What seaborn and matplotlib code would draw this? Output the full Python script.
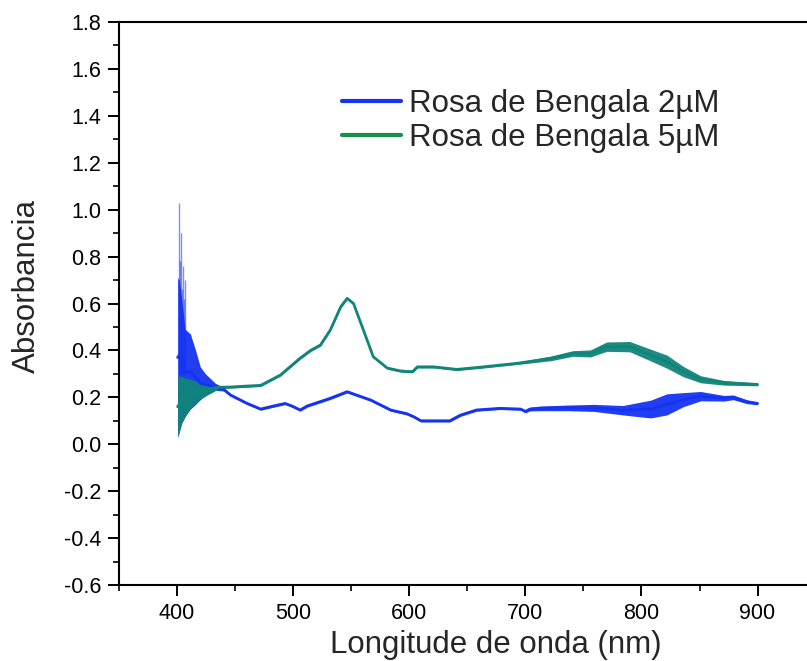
import numpy as np
import pandas as pd
import matplotlib
matplotlib.use("Agg")
import matplotlib.pyplot as plt
import seaborn as sns
from matplotlib.lines import Line2D
from matplotlib.ticker import MultipleLocator

# ---------------- data ----------------
labels = ["Rosa de Bengala 2µM", "Rosa de Bengala 5µM"]

wl_2uM = [400.5, 402, 404, 407, 411.5, 416, 420, 424.5, 433, 440, 446, 460, 472, 483,
          493, 499, 506, 512, 532, 546.5, 567, 584, 598, 604, 610, 635, 644, 658, 678,
          696, 700, 704, 713, 736, 759, 784, 808, 822, 836, 851, 871, 879, 891, 900]
abs_2uM = [0.37, 0.38, 0.355, 0.305, 0.31, 0.285, 0.26, 0.255, 0.245, 0.235, 0.21, 0.175,
           0.15, 0.163, 0.174, 0.163, 0.146, 0.163, 0.196, 0.224, 0.188, 0.146, 0.13,
           0.117, 0.10, 0.10, 0.124, 0.146, 0.153, 0.15, 0.14, 0.15, 0.153, 0.155, 0.155,
           0.145, 0.15, 0.17, 0.19, 0.205, 0.196, 0.2, 0.181, 0.174]
noise_2uM = [0.34, 0.32, 0.265, 0.185, 0.16, 0.115, 0.07, 0.045, 0.015, 0.008] + \
            [0.005] * 20 + \
            [0.006, 0.008, 0.01, 0.012, 0.015, 0.02, 0.038, 0.045, 0.03, 0.02, 0.012,
             0.01, 0.008, 0.006]
spike_wl_2uM = [401.5, 402.3, 403.5, 404.2, 404.9, 405.8, 406.5]
spike_abs_2uM = [1.03, 0.78, 0.90, 0.66, 0.76, 0.62, 0.70]

wl_5uM = [400.5, 402, 404, 407, 410, 414, 419, 424, 430, 436, 446, 460, 472, 489, 506,
          515, 523.5, 532, 541, 546.5, 552, 560.5, 569, 581, 592, 598, 603, 607, 621,
          641, 664, 693, 722, 741, 756, 770, 790, 808, 822, 836, 851, 871, 900]
abs_5uM = [0.16, 0.17, 0.19, 0.20, 0.21, 0.22, 0.227, 0.233, 0.238, 0.243,
           0.244, 0.248, 0.251, 0.295, 0.367, 0.40, 0.423, 0.487, 0.586, 0.622,
           0.60, 0.487, 0.373, 0.325, 0.313, 0.31, 0.31, 0.33, 0.33, 0.319,
           0.33, 0.345, 0.366, 0.387, 0.387, 0.416, 0.416, 0.38, 0.352, 0.31,
           0.277, 0.262, 0.255]
noise_5uM = [0.13, 0.12, 0.10, 0.083, 0.068, 0.053, 0.039, 0.029, 0.018, 0.005] + \
            [0.005] * 22 + \
            [0.01, 0.012, 0.015, 0.02, 0.022, 0.025, 0.028, 0.022, 0.015, 0.01, 0.006]

x_ticks = [400, 500, 600, 700, 800, 900]
y_ticks = [-0.6, -0.4, -0.2, 0.0, 0.2, 0.4, 0.6, 0.8, 1.0, 1.2, 1.4, 1.6, 1.8]

line_colors = ["#1533f2", "#11857a"]
legend_colors = ["#1533f2", "#17904f"]

# ---------------- style ----------------
sns.set_theme(style="ticks")
plt.rcParams['font.family'] = ['Liberation Sans', 'DejaVu Sans']

fig = plt.figure(figsize=(8.07, 6.61), dpi=100)
fig.patch.set_facecolor("white")
ax = fig.add_axes([119 / 807, 76 / 661, 696.6 / 807, 563 / 661])
ax.set_facecolor("white")

df = pd.concat([
    pd.DataFrame({"wl": wl_2uM, "abs": abs_2uM, "noise": noise_2uM, "serie": labels[0]}),
    pd.DataFrame({"wl": wl_5uM, "abs": abs_5uM, "noise": noise_5uM, "serie": labels[1]}),
], ignore_index=True)

for lab, col in zip(labels, line_colors):
    d = df[df["serie"] == lab]
    ax.fill_between(d["wl"], d["abs"] - d["noise"], d["abs"] + d["noise"],
                    color=col, lw=0, alpha=0.95, zorder=2)
    sns.lineplot(data=d, x="wl", y="abs", color=col, lw=2.0, ax=ax,
                 legend=False, zorder=3, sort=False)
    if lab == labels[0]:
        ax.vlines(spike_wl_2uM, 0.3, spike_abs_2uM, color=col, lw=1.0,
                  alpha=0.55, zorder=2)

ax.set_xlim(350, 950)
ax.set_ylim(-0.6, 1.8)
ax.set_xticks(x_ticks)
ax.set_yticks(y_ticks)
ax.set_yticklabels([f"{v:.1f}" for v in y_ticks])
ax.xaxis.set_minor_locator(MultipleLocator(50))
ax.yaxis.set_minor_locator(MultipleLocator(0.1))
ax.tick_params(which="major", direction="out", length=8, width=1.4,
               labelsize=15.5, colors="black", pad=5)
ax.tick_params(which="minor", direction="out", length=4, width=1.4)
ax.tick_params(top=False, right=False, which="both")
for s in ax.spines.values():
    s.set_linewidth(1.5)
    s.set_color("black")
ax.spines["top"].set_visible(True)
ax.spines["right"].set_visible(False)

ax.set_xlabel("Longitude de onda (nm)", fontsize=22.5, labelpad=4)
ax.set_ylabel("Absorbancia", fontsize=22.5, labelpad=8)
ax.xaxis.label.set_x(0.541)
ax.yaxis.set_label_coords(-0.110, 0.531)

handles = [Line2D([0], [0], color=c, lw=3) for c in legend_colors]
ax.legend(handles, labels, loc="upper left", bbox_to_anchor=(0.32, 0.881),
          frameon=False, fontsize=22.5, handlelength=1.9, handletextpad=0.25,
          labelspacing=0.12, borderpad=0, borderaxespad=0)

fig.savefig("out.png", dpi=100, facecolor="white")
